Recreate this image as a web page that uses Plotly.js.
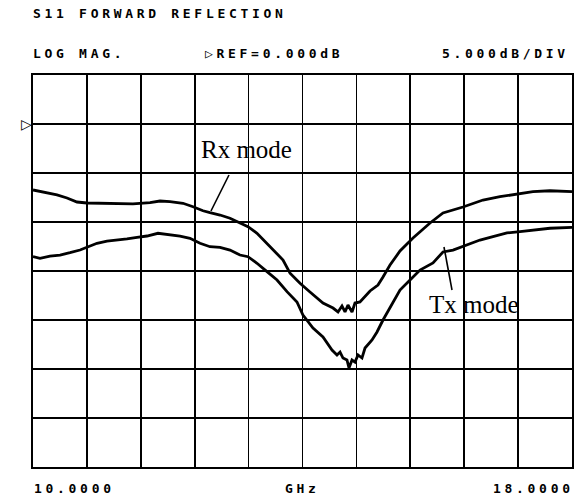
<!DOCTYPE html>
<html>
<head>
<meta charset="utf-8">
<script src="https://cdn.plot.ly/plotly-3.0.1.min.js"></script>
<style>
  html, body { margin: 0; padding: 0; background: #fff; }
  #chart { width: 580px; height: 495px; }
  text.annotation-text[style*="DejaVu Sans Mono"] { letter-spacing: 3.7px; font-weight: 700; }
</style>
</head>
<body>
<div id="chart"></div>
<script>
// Frequency axis (GHz) and levels (dB)
const rxFreq = [10.000,10.208,10.356,10.505,10.653,10.801,10.994,11.247,11.484,11.737,11.885,12.033,12.226,12.375,12.523,12.627,12.776,12.924,13.072,13.191,13.325,13.473,13.622,13.711,13.815,13.963,14.111,14.304,14.453,14.527,14.586,14.631,14.675,14.735,14.779,14.853,15.002,15.120,15.195,15.299,15.447,15.640,15.893,16.085,16.382,16.679,16.931,17.184,17.421,17.673,18.000];
const rxMag = [-6.73,-7.04,-7.24,-7.55,-7.96,-8.06,-8.09,-8.19,-8.16,-8.03,-7.86,-7.93,-8.09,-8.44,-8.85,-9.05,-9.29,-9.62,-10.13,-10.48,-11.15,-12.17,-13.19,-13.88,-15.23,-16.26,-17.14,-18.27,-18.78,-19.18,-18.57,-19.18,-18.47,-19.18,-18.27,-18.16,-17.04,-16.43,-15.61,-14.39,-12.96,-11.63,-10.10,-9.08,-8.47,-7.76,-7.42,-7.14,-6.91,-6.81,-6.91];

const txFreq = [10.000,10.104,10.252,10.401,10.549,10.698,10.801,10.950,11.098,11.247,11.395,11.544,11.692,11.855,12.033,12.182,12.330,12.479,12.627,12.776,12.924,13.072,13.191,13.325,13.473,13.622,13.770,13.918,14.007,14.156,14.304,14.438,14.512,14.557,14.601,14.660,14.690,14.735,14.779,14.824,14.883,14.928,15.032,15.106,15.195,15.299,15.447,15.596,15.744,15.937,16.085,16.234,16.442,16.634,16.827,17.035,17.228,17.421,17.673,18.000];
const txMag = [-13.54,-13.70,-13.47,-13.37,-13.13,-12.86,-12.58,-12.17,-11.94,-11.84,-11.73,-11.56,-11.43,-11.15,-11.33,-11.43,-11.66,-12.17,-12.52,-12.58,-12.86,-13.37,-13.54,-14.21,-15.07,-15.92,-17.11,-18.16,-19.49,-20.82,-21.74,-23.06,-23.57,-23.27,-23.88,-24.08,-24.90,-24.08,-24.29,-23.57,-23.88,-22.86,-22.04,-21.22,-20.00,-18.67,-16.94,-15.92,-14.90,-14.18,-13.06,-12.86,-12.35,-11.84,-11.50,-11.12,-10.99,-10.82,-10.64,-10.54];

const xRange = [10, 18];
const yRange = [-35, 5];
const headerTitle = "S11 FORWARD REFLECTION";
const formatLabel = "LOG MAG.";
const refLabel = "\u25B7REF=0.000dB";
const scaleLabel = "5.000dB/DIV";
const startLabel = "10.0000";
const unitLabel = "GHz";
const stopLabel = "18.0000";
const rxLabel = "Rx mode";
const txLabel = "Tx mode";

const lineStyle = {color: '#000', width: 2.8};
const traces = [
  {x: rxFreq, y: rxMag, mode: 'lines', line: lineStyle, name: rxLabel, hoverinfo: 'skip'},
  {x: txFreq, y: txMag, mode: 'lines', line: lineStyle, name: txLabel, hoverinfo: 'skip'}
];

const mono = {family: 'DejaVu Sans Mono', size: 13, color: '#000', weight: 700};
const serif = {family: 'Liberation Serif', size: 25, color: '#000'};

function hdr(text, x, y, xanchor) {
  return {text: text, xref: 'paper', yref: 'paper', x: x, y: y, xanchor: xanchor || 'left',
          yanchor: 'middle', showarrow: false, font: mono};
}

const layout = {
  width: 580, height: 495,
  margin: {l: 33, r: 8, t: 75, b: 28},
  paper_bgcolor: '#fff', plot_bgcolor: '#fff',
  showlegend: false,
  xaxis: {range: xRange, dtick: 0.8, tick0: 10, showticklabels: false, ticks: '',
          showgrid: true, gridcolor: '#000', gridwidth: 1.6, zeroline: false,
          showline: true, linecolor: '#000', linewidth: 2, mirror: true, fixedrange: true},
  yaxis: {range: yRange, dtick: 5, tick0: -35, showticklabels: false, ticks: '',
          showgrid: true, gridcolor: '#000', gridwidth: 1.6, zeroline: false,
          showline: true, linecolor: '#000', linewidth: 2, mirror: true, fixedrange: true},
  annotations: [
    hdr(headerTitle, -0.004, 1.158),
    hdr(formatLabel, -0.004, 1.0536),
    hdr(refLabel, 0.3154, 1.0536),
    hdr(scaleLabel, 0.7551, 1.0536),
    hdr(startLabel, -0.002, -0.0536),
    hdr(unitLabel, 0.4991, -0.0536, 'center'),
    hdr(stopLabel, 0.8497, -0.0536),
    {text: '\u25B7', xref: 'paper', yref: 'y', x: 0.001, y: 0, xanchor: 'right', yanchor: 'middle',
     showarrow: false, font: {family: 'DejaVu Sans', size: 14, color: '#000', weight: 700}},
    {text: rxLabel, xref: 'paper', yref: 'paper', x: 0.3961, y: 0.8112, xanchor: 'center', yanchor: 'middle',
     showarrow: false, font: serif},
    {text: txLabel, xref: 'paper', yref: 'paper', x: 0.8182, y: 0.4133, xanchor: 'center', yanchor: 'middle',
     showarrow: false, font: serif}
  ],
  shapes: [
    {type: 'line', xref: 'paper', yref: 'paper', x0: 0.3636, y0: 0.7449, x1: 0.3302, y1: 0.6531,
     line: {color: '#000', width: 1.6}},
    {type: 'line', xref: 'paper', yref: 'paper', x0: 0.7625, y0: 0.5612, x1: 0.7774, y1: 0.4515,
     line: {color: '#000', width: 1.6}}
  ]
};

Plotly.newPlot('chart', traces, layout, {staticPlot: true, displayModeBar: false});
</script>
</body>
</html>
